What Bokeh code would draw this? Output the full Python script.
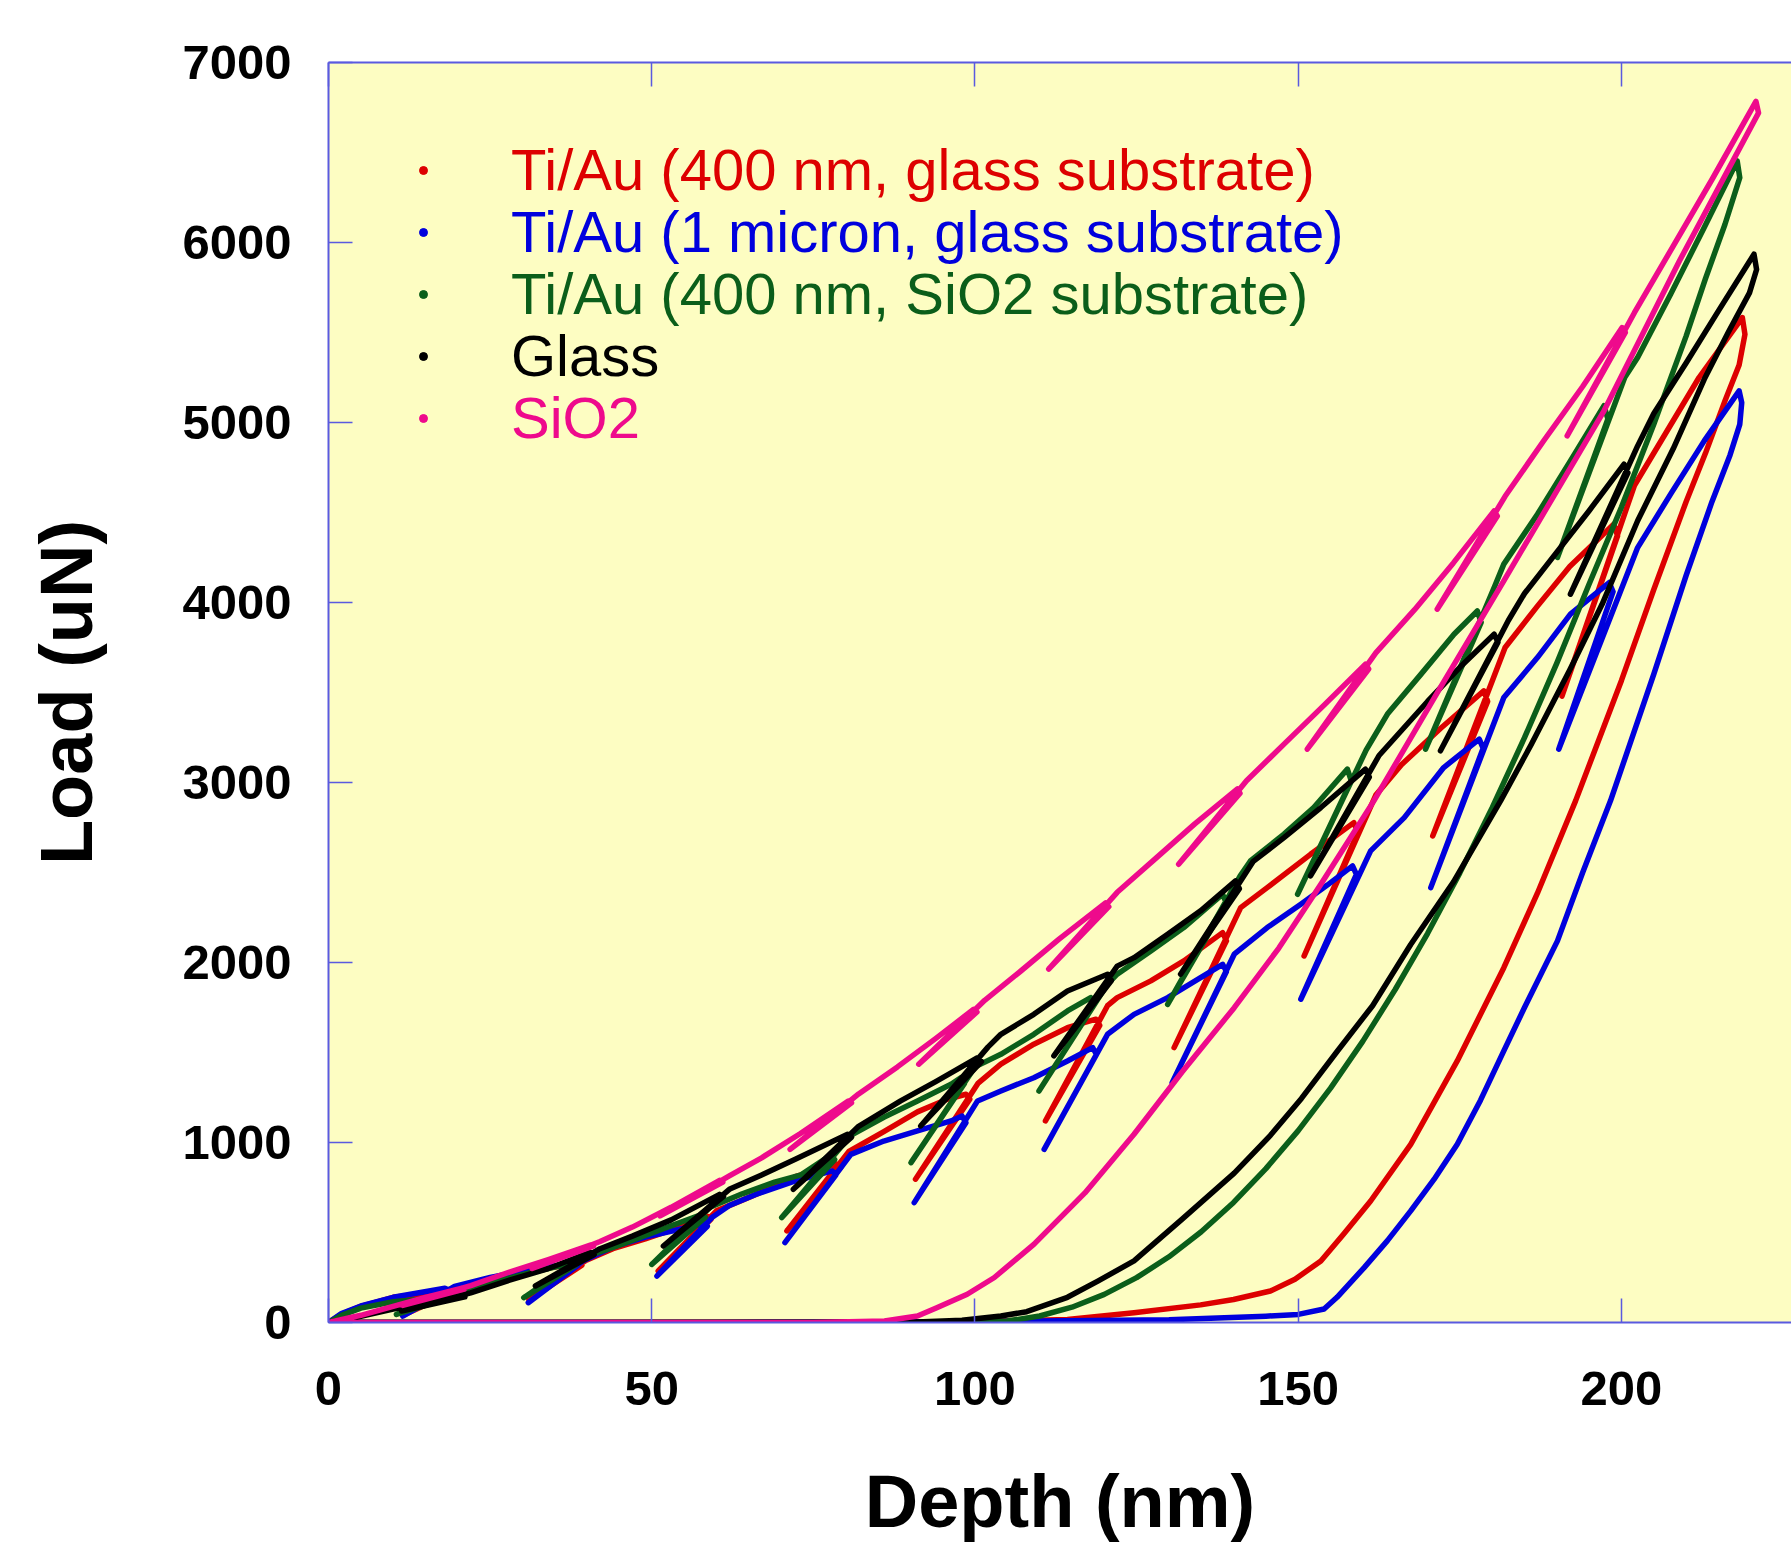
from bokeh.plotting import figure
from bokeh.models import Range1d, LinearAxis, Legend, LegendItem, FixedTicker, CustomJSTickFormatter
from bokeh.embed import file_html
from bokeh.resources import INLINE

# ---------------- data (depth nm, load uN) ----------------
x_ticks = [0, 50, 100, 150, 200]
y_ticks = [0, 1000, 2000, 3000, 4000, 5000, 6000, 7000]

series_names = ["Ti/Au (400 nm, glass substrate)", "Ti/Au (1 micron, glass substrate)",
                "Ti/Au (400 nm, SiO2 substrate)", "Glass", "SiO2"]
series_colors = ["#DD0000", "#0000DD", "#0B5E1A", "#000000", "#EE0A8C"]

red_depth = [0, 2, 5, 10, 18.6, 19.2, 11.5,
             20, 25, 32, 38.6, 39.2, 31,
             39.8, 44, 49, 54, 58.6, 59.2, 51,
             60, 64, 68, 72.2, 78.6, 79.2, 70.9,
             80.5, 85.9, 91.1, 95.7, 98.6, 99.2, 90.8,
             100.5, 104, 109.1, 114.3, 118.7, 119.3, 110.9,
             120.5, 122, 127.2, 132.3, 138.3, 138.9, 130.8,
             141.1, 145.2, 151.9, 158.6, 159.2, 150.9,
             162, 166, 172, 178.7, 179.3, 170.8,
             182, 187, 192, 198.8, 199.4, 190.8,
             202, 207, 212, 218.7,
             219.1, 218.2, 216, 213, 210, 205, 200, 192.9, 187, 181.8, 174.6, 167.4,
             161.2, 157, 153.5, 149.5, 145.7, 140, 134.9, 124.6, 114.3, 100, 80, 0]
red_load = [0, 45, 90, 140, 175, 165, 40,
            190, 240, 290, 330, 318, 125,
            345, 410, 465, 525, 590, 575, 286,
            620, 680, 740, 810, 880, 860, 509,
            950, 1060, 1170, 1240, 1268, 1240, 796,
            1330, 1435, 1546, 1638, 1685, 1650, 1120,
            1760, 1805, 1898, 2009, 2166, 2120, 1527,
            2305, 2416, 2601, 2777, 2720, 2036,
            2930, 3100, 3300, 3509, 3450, 2703,
            3750, 3980, 4200, 4435, 4370, 3480,
            4650, 4950, 5250, 5583,
            5490, 5320, 5120, 4830, 4560, 4072, 3567, 2898, 2385, 1971, 1453, 990,
            675, 490, 342, 240, 175, 128, 98, 54, 17, 5, 0, 0]

blue_depth = [0, 2, 5, 10, 18, 18.6, 11.5,
              19.5, 25, 32, 38, 38.6, 30.9,
              39.5, 44, 49, 54, 58, 58.6, 50.8,
              59.3, 62, 66, 72.2, 77.9, 78.5, 70.6,
              80.8, 85.9, 91.1, 96.3, 98.0, 98.6, 90.6,
              100.4, 104, 109.1, 114.3, 118.2, 118.8, 110.7,
              120.5, 124.6, 129.8, 134.9, 138.3, 138.9, 130.5,
              140.1, 145.2, 150.4, 154.5, 158.4, 159.0, 150.4,
              161.2, 166.4, 172.5, 178.0, 178.6, 170.5,
              181.8, 187.0, 192.1, 198.1, 198.7, 190.3,
              202.5, 207.6, 212.8, 218.2,
              218.6, 218.3, 216.8, 214, 210, 205, 198.3, 194, 190.1, 185, 181.8, 178.2, 174.6,
              171, 167.4, 163.8, 160.2, 156, 154, 150, 145, 130, 110, 90, 60, 0]
blue_load = [0, 50, 92, 140, 190, 180, 35,
             200, 250, 300, 330, 318, 110,
             345, 420, 475, 515, 550, 535, 258,
             583, 650, 710, 786, 842, 820, 444,
             934, 1008, 1064, 1120, 1147, 1110, 666,
             1231, 1286, 1360, 1453, 1527, 1490, 962,
             1601, 1712, 1805, 1916, 1990, 1950, 1332,
             2046, 2194, 2324, 2430, 2537, 2490, 1796,
             2620, 2805, 3083, 3241, 3190, 2416,
             3472, 3694, 3935, 4111, 4060, 3185,
             4305, 4602, 4898, 5176,
             5110, 4990, 4820, 4560, 4150, 3602, 2898, 2500, 2120, 1750, 1509, 1235, 990,
             795, 620, 455, 305, 140, 75, 45, 35, 15, 8, 3, 0, 0]

green_depth = [0, 2, 5, 10, 17.7, 18.3, 10.5,
               19, 25, 31, 37.7, 38.3, 30.2,
               39, 45, 51, 57.7, 58.3, 50,
               59, 64, 69, 73.1, 77.7, 78.3, 70.1,
               80.8, 85.9, 91.1, 96.3, 97.8, 98.4, 90.1,
               100, 104, 109.1, 114.3, 117.9, 118.5, 109.9,
               120.5, 122, 127.2, 132.3, 138.3, 138.9, 129.8,
               141, 142.6, 147.8, 152.4, 157.6, 158.2, 149.9,
               160.5, 163.8, 169, 174.1, 177.7, 178.3, 169.7,
               180.5, 181.8, 187, 192.1, 197.3, 197.9, 190.1,
               200.5, 202.5, 207.6, 212.8, 217.9,
               218.3, 216, 213, 210, 205, 200, 195, 190, 185, 180, 175, 170, 165, 160,
               155, 150, 145, 140, 135, 130, 125, 120, 115, 110, 105, 100, 0]
green_load = [0, 40, 80, 115, 140, 132, 45,
              160, 220, 275, 330, 320, 138,
              355, 430, 510, 600, 585, 323,
              640, 715, 780, 820, 930, 905, 583,
              1040, 1140, 1230, 1324, 1360, 1330, 888,
              1420, 1490, 1601, 1731, 1805, 1770, 1286,
              1880, 1935, 2064, 2194, 2379, 2330, 1768,
              2480, 2564, 2713, 2861, 3074, 3010, 2379,
              3180, 3380, 3602, 3824, 3953, 3890, 3185,
              4100, 4213, 4490, 4787, 5093, 5020, 4250,
              5250, 5361, 5713, 6083, 6453,
              6360, 6100, 5800, 5480, 4990, 4530, 4103, 3663, 3249, 2860, 2498, 2161, 1850, 1563,
              1302, 1066, 855, 667, 504, 365, 249, 156, 85, 36, 8, 0, 0]

black_depth = [0, 5, 10, 15, 20.5, 21.1, 11.3,
               22, 28, 34, 40.5, 41.1, 32,
               42, 47, 53, 60.5, 61.1, 51.8,
               62, 67, 72.2, 80.3, 80.9, 71.9,
               82, 88.5, 94, 100.4, 101, 91.6,
               102, 104, 109.1, 114.3, 120.5, 121.1, 112.2,
               122, 124.6, 129.8, 134.9, 140.3, 140.9, 131.8,
               143, 147.8, 153.5, 160.4, 161, 151.9,
               162.5, 165, 170, 175, 180.3, 180.9, 172,
               182.5, 185, 190, 195, 200.4, 201, 192.1,
               202.5, 205, 210, 215, 220.5,
               220.9, 219.8, 216.5, 212.8, 208, 202.5, 197, 192, 186, 181.3, 174, 167.4, 161.5,
               156.1, 150.5, 145.7, 140.1, 132, 124.6, 119, 114.3, 108, 104, 98, 90, 0]
black_load = [0, 35, 75, 110, 150, 142, 64,
              165, 235, 300, 390, 378, 203,
              410, 480, 570, 712, 700, 425,
              740, 820, 907, 1046, 1030, 740,
              1090, 1231, 1340, 1471, 1450, 1092,
              1530, 1601, 1712, 1842, 1935, 1900, 1481,
              1980, 2027, 2157, 2287, 2453, 2410, 1935,
              2560, 2694, 2861, 3074, 3030, 2481,
              3150, 3250, 3450, 3640, 3824, 3780, 3176,
              3900, 4050, 4280, 4510, 4768, 4720, 4046,
              4870, 5050, 5330, 5620, 5935,
              5850, 5720, 5500, 5240, 4854, 4454, 3990, 3625, 3208, 2898, 2447, 2100, 1760,
              1510, 1245, 1040, 830, 573, 342, 230, 140, 60, 36, 12, 2, 0]

pink_depth = [0, 5, 10, 15, 20.5, 21, 11.5,
              22, 28, 34, 40.5, 41, 31.5,
              42, 47, 53, 60.5, 61, 51.3,
              62, 67, 73, 80.4, 80.9, 71.4,
              82, 88, 94, 99.8, 100.3, 91.3,
              101.5, 107, 113, 120.2, 120.7, 111.4,
              122, 128, 134, 140.6, 141, 131.5,
              142, 148, 154, 160.4, 160.9, 151.4,
              162, 168, 174, 180.3, 180.8, 171.5,
              182, 188, 194, 200.1, 200.6, 191.6,
              202, 208, 214, 220.8,
              221.2, 209, 197.3, 189.5, 181.8, 171.7, 161.7, 153.5, 147, 140.1, 132,
              124.6, 117, 109.1, 103, 98.8, 94, 91.1, 86, 75, 0]
pink_load = [0, 40, 90, 140, 190, 185, 95,
             205, 280, 350, 430, 425, 300,
             450, 530, 640, 790, 780, 592,
             815, 915, 1050, 1231, 1220, 962,
             1270, 1420, 1580, 1740, 1725, 1435,
             1790, 1950, 2130, 2331, 2310, 1964,
             2390, 2580, 2770, 2964, 2940, 2546,
             3010, 3220, 3430, 3657, 3630, 3185,
             3720, 3960, 4220, 4509, 4480, 3963,
             4590, 4900, 5200, 5527, 5500, 4926,
             5610, 5980, 6350, 6784,
             6720, 5900, 5065, 4590, 4120, 3510, 2898, 2435, 2080, 1749, 1390,
             1046, 720, 434, 250, 157, 80, 36, 8, 0, 0]

series_depths = [red_depth, blue_depth, green_depth, black_depth, pink_depth]
series_loads = [red_load, blue_load, green_load, black_load, pink_load]

# ---------------- figure ----------------
AXC = "#5A5AE0"
BG = "#FDFDC2"

p = figure(width=1791, height=1547, output_backend="svg", toolbar_location=None,
           x_range=Range1d(0, 226.3), y_range=Range1d(0, 7000),
           min_border_left=328, min_border_right=0, min_border_top=62, min_border_bottom=225,
           x_axis_label="Depth (nm)", y_axis_label="Load (uN)")
p.background_fill_color = BG
p.border_fill_color = "white"
p.outline_line_color = None
p.xgrid.visible = False
p.ygrid.visible = False

p.xaxis.ticker = FixedTicker(ticks=x_ticks)
p.yaxis.ticker = FixedTicker(ticks=y_ticks)

for ax in (p.xaxis[0], p.yaxis[0]):
    ax.axis_line_color = AXC
    ax.axis_line_width = 2
    ax.major_tick_line_color = AXC
    ax.major_tick_line_width = 1.5
    ax.major_tick_in = 24
    ax.major_tick_out = 0
    ax.minor_tick_line_color = None
    ax.major_label_text_font = "Liberation Sans"
    ax.major_label_text_font_style = "bold"
    ax.major_label_text_font_size = "49px"
    ax.major_label_text_color = "black"
    ax.axis_label_text_font = "Liberation Sans"
    ax.axis_label_text_font_style = "bold"
    ax.axis_label_text_font_size = "74px"
    ax.axis_label_text_color = "black"
p.xaxis[0].major_label_standoff = 49
p.yaxis[0].major_label_standoff = 37
p.xaxis[0].axis_label_standoff = 52
p.yaxis[0].axis_label_standoff = 71

top = LinearAxis(ticker=FixedTicker(ticks=x_ticks),
                 formatter=CustomJSTickFormatter(code="return ''"))
top.axis_line_color = AXC
top.axis_line_width = 2
top.major_tick_line_color = AXC
top.major_tick_line_width = 1.5
top.major_tick_in = 24
top.major_tick_out = 0
top.minor_tick_line_color = None
top.major_label_standoff = 0
p.add_layout(top, "above")

# legend marker renderers (first point of each series, hidden under the lines)
dot_renderers = []
for d, l, c in zip(series_depths, series_loads, series_colors):
    dot_renderers.append(p.scatter(x=d[:1], y=l[:1], size=5, color=c, marker="circle"))

# data lines
for d, l, c in zip(series_depths, series_loads, series_colors):
    p.line(x=d, y=l, line_color=c, line_width=5.5, line_join="round", line_cap="round")

# legend: one small legend per series so each label keeps its colour
row_offsets = [1119, 1057, 995, 933, 871]
for name, c, yoff, r in zip(series_names, series_colors, row_offsets, dot_renderers):
    leg = Legend(items=[LegendItem(label=name, renderers=[r])], location=(85, yoff))
    leg.background_fill_alpha = 0
    leg.border_line_color = None
    leg.padding = 0
    leg.margin = 0
    leg.spacing = 0
    leg.glyph_width = 20
    leg.glyph_height = 20
    leg.label_standoff = 78
    leg.label_text_font = "Liberation Sans"
    leg.label_text_font_size = "58px"
    leg.label_text_color = c
    p.add_layout(leg)

open("out.html", "w").write(file_html(p, INLINE))
